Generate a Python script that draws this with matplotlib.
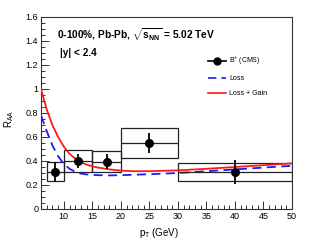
import matplotlib
matplotlib.use("Agg")
import matplotlib.pyplot as plt
from matplotlib.patches import Rectangle
from matplotlib.lines import Line2D
from matplotlib.ticker import MultipleLocator

plt.rcParams['font.family'] = ['Liberation Sans', 'DejaVu Sans']
plt.rcParams['mathtext.fontset'] = 'custom'
plt.rcParams['mathtext.rm'] = 'Liberation Sans'
plt.rcParams['mathtext.bf'] = 'Liberation Sans:bold'
plt.rcParams['mathtext.it'] = 'Liberation Sans:italic'

# CMS B+ data
pt = [8.5, 12.5, 17.5, 25.0, 40.0]
pt_lo = [7, 10, 15, 20, 30]
pt_hi = [10, 15, 20, 30, 50]
raa = [0.31, 0.40, 0.395, 0.55, 0.31]
stat = [0.085, 0.055, 0.06, 0.08, 0.10]
syst = [0.08, 0.09, 0.085, 0.125, 0.074]

# model curves
x_curve = [6, 7, 8, 9, 10, 11, 12, 13, 14, 15, 16, 18, 20, 22, 25, 30, 35, 40, 45, 50]
loss_gain = [1.00, 0.83, 0.70, 0.60, 0.52, 0.46, 0.42, 0.39, 0.37, 0.355, 0.345,
             0.33, 0.32, 0.315, 0.315, 0.322, 0.335, 0.35, 0.365, 0.38]
loss = [0.78, 0.65, 0.53, 0.44, 0.375, 0.335, 0.31, 0.295, 0.288, 0.284, 0.282,
        0.280, 0.282, 0.285, 0.29, 0.30, 0.315, 0.33, 0.345, 0.36]

fig = plt.figure(figsize=(3.15, 2.4), dpi=100)
ax = fig.add_axes([41/315, 1-209/240, 251/315, 192/240])

ax.plot(x_curve, loss, color='#1a1aff', lw=1.3, ls=(0, (5, 3)), zorder=3)
ax.plot(x_curve, loss_gain, color='#ff1a1a', lw=1.3, zorder=3)

for x0, x1, y, s in zip(pt_lo, pt_hi, raa, syst):
    ax.add_patch(Rectangle((x0, y - s), x1 - x0, 2 * s, fill=False,
                           edgecolor='#222222', lw=0.9, zorder=2))

xerr = [[p - l for p, l in zip(pt, pt_lo)], [h - p for p, h in zip(pt, pt_hi)]]
ax.errorbar(pt, raa, xerr=xerr, fmt='none', ecolor='#222222', elinewidth=0.9,
            capsize=0, zorder=4)
ax.errorbar(pt, raa, yerr=stat, fmt='o', color='black', ms=5.5,
            elinewidth=1.3, capsize=0, zorder=5)

ax.set_xlim(6, 50)
ax.set_ylim(0, 1.6)
ax.xaxis.set_major_locator(MultipleLocator(5))
ax.xaxis.set_minor_locator(MultipleLocator(1))
ax.yaxis.set_major_locator(MultipleLocator(0.2))
ax.yaxis.set_minor_locator(MultipleLocator(0.05))
ax.set_yticks([0, 0.2, 0.4, 0.6, 0.8, 1.0, 1.2, 1.4, 1.6])
ax.set_yticklabels(['0', '0.2', '0.4', '0.6', '0.8', '1', '1.2', '1.4', '1.6'])
ax.set_xticks([10, 15, 20, 25, 30, 35, 40, 45, 50])
ax.tick_params(which='both', direction='in', top=False, right=False,
               labelsize=6.5, pad=2, width=0.7, color='#333333')
ax.tick_params(which='major', length=6)
ax.tick_params(which='minor', length=3)
for sp in ax.spines.values():
    sp.set_linewidth(0.8)
    sp.set_color('#333333')

ax.set_xlabel(r'p$_{\mathrm{T}}$ (GeV)', fontsize=7, labelpad=2)
ax.xaxis.set_label_coords(0.47, -0.09)
ax.set_ylabel(r'R$_{\mathrm{AA}}$', fontsize=7)
ax.yaxis.set_label_coords(-0.1, 0.47)

ax.text(0.063, 0.905, r'0-100%, Pb-Pb, $\sqrt{\mathbf{s}_{\mathbf{NN}}}$ = 5.02 TeV',
        transform=ax.transAxes, fontsize=7.3, fontweight='bold', va='center')
ax.text(0.075, 0.815, '|y| < 2.4', transform=ax.transAxes, fontsize=7.3,
        fontweight='bold', va='center')

handles = [Line2D([0], [0], color='black', marker='o', ms=5, lw=1.2),
           Line2D([0], [0], color='#1a1aff', lw=1.2, ls=(0, (5, 3))),
           Line2D([0], [0], color='#ff1a1a', lw=1.2)]
labels = [r'B$^{+}$ (CMS)', 'Loss', 'Loss + Gain']
leg = ax.legend(handles, labels, loc='upper left', bbox_to_anchor=(0.65, 0.82),
                frameon=False, fontsize=5, handlelength=2.6, handletextpad=0.5,
                labelspacing=1.15, borderpad=0)

fig.savefig('out.png', dpi=100)
